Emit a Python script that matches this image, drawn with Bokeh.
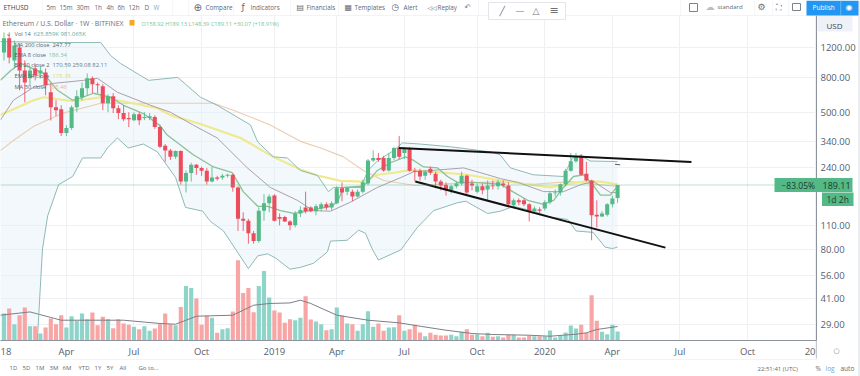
from bokeh.plotting import figure
from bokeh.embed import file_html
from bokeh.resources import INLINE
from bokeh.core.properties import value
from bokeh.models import Range1d, LinearScale, FixedTicker, Span

# ---------- data (week index, prices in USD, volume in thousands)
weeks = list(range(119))
opens = [1122,1358,1008,1200,882,793,906,847,859,658,538,524,380,407,538,615,694,793,732,712,567,623,531,497,465,452,490,465,465,471,
         412,320,301,276,299,198,222,248,238,229,198,209,209,214,217,183,120,117,99,89,134,148,164,123,123,116,110,129,140,140,
         133,138,146,140,148,181,173,173,162,173,193,263,272,272,230,272,311,291,307,229,229,214,235,220,198,190,176,186,193,214,
         193,173,186,178,188,186,193,188,144,154,154,146,133,136,138,150,169,171,191,229,260,280,220,201,127,124,127,146,158.92]
highs = [1470,1470,1318,1265,1008,930,956,930,906,741,591,552,423,552,675,751,847,814,751,732,640,650,552,552,503,503,503,503,497,483,
         423,328,307,301,301,230,255,251,242,238,242,214,220,220,220,186,131,120,102,140,167,167,167,129,125,118,133,142,173,142,
         146,150,150,152,186,196,181,178,178,203,268,301,291,280,291,315,365,315,315,238,235,230,242,226,203,196,190,198,226,217,
         203,193,193,201,201,203,201,196,158,158,158,148,142,140,154,173,178,193,235,291,291,287,258,203,154,133,148,164,189.13]
lows = [1008,970,906,675,575,722,772,793,632,450,477,365,365,396,503,591,632,650,650,517,503,497,458,446,412,446,423,452,452,402,
        311,258,265,268,190,171,198,217,214,190,196,201,203,209,173,102,102,86,86,87,117,131,116,110,115,103,107,123,129,131,
        126,133,135,135,146,152,165,152,160,169,188,258,258,226,226,265,268,268,226,198,201,203,217,181,176,164,169,181,188,167,
        176,169,167,154,178,178,183,142,138,144,142,116,131,129,134,146,162,164,186,226,255,214,198,90,107,123,124,140,148.39]
closes = [1358,1050,1232,882,751,882,825,882,722,538,517,380,407,538,623,694,793,732,722,567,623,531,497,458,458,490,452,471,477,412,
          316,301,276,299,198,222,248,238,229,198,209,206,214,217,183,120,117,99,89,134,148,162,117,120,116,110,129,135,133,133,
          142,146,140,148,181,171,183,162,173,196,263,272,265,230,272,311,276,311,229,226,212,226,223,198,188,176,186,193,214,171,
          188,186,176,188,186,196,188,146,154,150,146,133,138,134,150,169,171,191,229,260,276,217,201,126,124,129,146,158,189.11]
volumes = [1890,2240,1140,1770,2310,1000,1000,490,910,1540,1140,1770,910,1700,1375,1890,1490,1960,1070,1655,1490,860,1490,1190,1095,955,790,1000,675,840,
           1140,1890,1140,1070,2350,3820,3680,2940,1095,1725,1585,535,790,860,2030,5615,3330,3680,1980,3820,4870,3005,2100,1960,1235,1490,1420,1585,3100,1470,
           1330,1140,720,790,2310,1750,1190,1140,675,1140,2050,955,1190,675,910,930,1770,675,790,1095,560,300,535,400,350,350,400,300,605,790,
           400,440,300,535,255,300,210,400,400,210,210,350,300,300,300,700,210,350,560,1050,840,1095,535,3170,1375,605,440,1095,626]

bb_upper_w = [-1,11,18.6,20.5,22.4,27.8,33.4,37.8,41,47.4,48.8,51.8,54.5,57,60.3,62.4,63.4,68.6,70,71.9,75,76.6,80,85.9,93.6,95.4,97.4,101.8,107.6,109.3,110.9,112.8,118]
bb_upper = [1300,1283,1283,1078,969,772,803,615,552,424,337,276,272,230,215,173,183,183,230,263,301,333,328,316,295,284,238,217,212,272,280,261,259.08]
bb_lower_w = [-1,6.4,7.4,8.4,10.5,13.2,15.1,18.6,19.9,21.8,23.9,26.8,29.5,33,34.9,38.2,39.7,42.2,44.5,47,48.8,50.7,52.2,55,57,59.5,62.2,62.8,66,68.2,69.5,70.9,72,76.3,79.5,82.6,87.2,88.8,93,95.5,98,101.8,105,108.4,110,113.3,115.6,117,118]
bb_lower = [12,23,80,125,190,212,272,272,311,356,311,328,295,209,140,133,116,102,80,61.5,73,75,71,61,62.5,66,77,89,90,103,99,79,69,79,107,134,149,152,129,133,142,133,123,119,102,100,82,80.5,82.11]
ema8_w = [-0.7,1.3,3.2,7.6,10.3,13.2,14.7,17.2,20.5,23,26.8,30,31.4,36.4,40.3,43.9,46,48.8,50.7,53.2,55.7,57,62.8,64.1,65.3,69,70,71.8,74.3,77.2,78.8,80.7,83.4,85.3,87.2,90.3,95.5,97.4,100.7,103.8,105.7,107.6,109.5,111.5,113.2,114.7,116.6,118]
ema8 = [772,882,969,847,675,591,607,649,615,552,494,420,370,284,241,223,173,142,142,134,129,131,142,150,183,186,198,230,255,276,263,241,238,212,196,196,191,176,154,146,154,183,212,217,190,165,165,186.34]
ma20_w = [-0.7,1.8,5.7,9.5,15.3,18,21.8,28.2,32,36.4,41,46.8,51.2,56.4,59.5,62.8,66.6,71.8,76.3,78.8,83.9,88.4,93,95.5,98.8,103.8,107.6,110.9,113.4,116.6,118]
ma20 = [452,591,703,741,772,793,658,552,503,423,356,238,183,154,134,133,150,183,209,226,232,238,217,206,196,173,173,190,198,171,170.59]
ema34_w = [-0.7,5.7,7.6,13.4,18.6,21.8,29.5,32,37.8,45.5,51.8,57,60.3,64.7,69,71.8,75,78.2,82.6,89.1,95.5,100.7,105,108.9,111.5,114.7,118]
ema34 = [484,591,615,583,615,591,531,484,429,356,276,233,215,200,198,217,223,232,226,217,201,191,183,193,198,198,191]
ma50_w = [-0.7,1.8,5.7,11.4,18.6,27.6,40.3,44.1,51.2,57,60.9,65.3,69.1,73,79.1,85.9,95.5,101.8,108.9,118]
ma50 = [300,344,416,497,567,567,567,517,424,340,311,276,230,201,188,193,198,191,198,185.46]
vol_ma_w = [-0.7,5,11,19,23,30,33,37,44,48,51,55,57,59,64,70,76,80,85,90,94,101,105,110,112,114,118]
vol_ma = [1770,2000,1420,1420,1420,1190,1140,1700,1770,2470,2590,2630,2820,2590,1770,1420,1235,1000,720,490,420,370,300,440,535,770,981]
ma200_w = [117.5,118.5]
ma200 = [250,247.77]
trend_top_w = [75.9,132.2]
trend_top = [311,258]
trend_low_w = [79.1,127.2]
trend_low = [198,81.5]

price_ticks = [29,41,56,80,110,240,340,500,800,1200]
x_tick_pos = [12,25,38,52,64,77,91,104,117,130,143]
x_tick_labels = ["Apr","Jul","Oct","2019","Apr","Jul","Oct","2020","Apr","Jul","Oct"]
last_price = 189.11

GREEN = "#53b987"; RED = "#eb4d5c"
VGREEN = "#8fd4c9"; VRED = "#f7a6a5"
W, H = 860, 376

p = figure(width=W, height=H, output_backend="svg", toolbar_location=None,
           y_axis_type="log", y_axis_location="right",
           x_range=Range1d(-0.673, 156.25), y_range=Range1d(23.4, 1845),
           min_border_left=0, min_border_top=15, min_border_right=44, min_border_bottom=36,
           outline_line_color=None, background_fill_color="white", border_fill_color="white")
p.styles = {"position": "absolute", "left": "0px", "top": "0px"}
p.extra_y_ranges = {"vol": Range1d(0, 22750)}
p.extra_y_scales = {"vol": LinearScale()}

# axes
ax = p.yaxis[0]
ax.ticker = FixedTicker(ticks=price_ticks)
ax.major_label_overrides = {t: f"{t:.2f}" for t in price_ticks}
ax.major_label_text_font = "Open Sans"; ax.major_label_text_font_size = "9.5px"
ax.major_label_text_color = "#56606b"
ax.major_tick_line_color = None; ax.minor_tick_line_color = None
ax.major_tick_out = 0; ax.major_tick_in = 0
ax.axis_line_color = "#8d939c"; ax.major_label_standoff = 4

bx = p.xaxis[0]
bx.ticker = FixedTicker(ticks=x_tick_pos)
bx.major_label_overrides = dict(zip(x_tick_pos, x_tick_labels))
bx.major_label_text_font = "Open Sans"; bx.major_label_text_font_size = "9.5px"
bx.major_label_text_color = "#56606b"
bx.major_tick_line_color = None; bx.minor_tick_line_color = None
bx.major_tick_out = 0; bx.major_tick_in = 0
bx.axis_line_color = "#8d939c"; bx.major_label_standoff = 4

for g in (p.xgrid[0], p.ygrid[0]):
    g.grid_line_color = "#eef0f4"; g.grid_line_width = 1
p.xgrid[0].ticker = FixedTicker(ticks=x_tick_pos + [156])
p.ygrid[0].ticker = FixedTicker(ticks=price_ticks)

# bollinger fill
p.patch(bb_upper_w + bb_lower_w[::-1], bb_upper + bb_lower[::-1], fill_color="#e8f3f7", fill_alpha=0.55, line_color=None)

# volume
vol_colors = [VGREEN if c >= o else VRED for o, c in zip(opens, closes)]
p.vbar(x=weeks, top=volumes, bottom=0, width=0.8, color=vol_colors, line_color=None, y_range_name="vol")
p.line(vol_ma_w, vol_ma, line_color="#7d7f86", line_width=1, y_range_name="vol")

# indicator lines
p.line(ma50_w, ma50, line_color="#ecccae", line_width=1.1)
p.line(ema34_w, ema34, line_color="#efe98f", line_width=2.2)
p.line(ma20_w, ma20, line_color="#ab9fae", line_width=1)
p.line(bb_upper_w, bb_upper, line_color="#8fb9b5", line_width=1)
p.line(bb_lower_w, bb_lower, line_color="#8fb9b5", line_width=1)
p.line(ema8_w, ema8, line_color="#8cc096", line_width=1.3)
p.line(ma200_w, ma200, line_color="#555a60", line_width=1)

p.add_layout(Span(location=last_price, dimension="width", line_color=GREEN, line_alpha=0.4, line_width=1))

# candles
cols = [GREEN if c >= o else RED for o, c in zip(opens, closes)]
p.segment(x0=weeks, y0=lows, x1=weeks, y1=highs, line_color=cols, line_width=1, line_alpha=0.85)
p.vbar(x=weeks, top=[max(a, b) for a, b in zip(opens, closes)], bottom=[min(a, b) for a, b in zip(opens, closes)],
       width=0.78, color=cols, line_color=None)

# drawn trend lines
p.line(trend_top_w, trend_top, line_color="#111111", line_width=2)
p.line(trend_low_w, trend_low, line_color="#111111", line_width=2)

# ---------- page furniture: a transparent figure over the chart, measured in page pixels
ui = figure(width=W, height=H, output_backend="svg", toolbar_location=None,
            x_range=Range1d(0, W), y_range=Range1d(H, 0),
            min_border=0, outline_line_color=None, x_axis_location=None, y_axis_location=None,
            background_fill_alpha=0, border_fill_alpha=0)
ui.grid.visible = False
ui.styles = {"position": "absolute", "left": "0px", "top": "0px"}


def txt(x, y, s, color="#5a6570", size=7.5, align="left", font="Open Sans"):
    ui.text(x=[x], y=[y], text=[s], text_color=color, text_font_size=f"{size}px", text_align=align,
            text_baseline="middle", text_font=value(font))


def box(l, r, t, b, fill, line=None):
    ui.quad(left=[l], right=[r], top=[t], bottom=[b], fill_color=fill, line_color=line, line_width=1)


box(0, 860, 0, 15, "white")
box(0, 860, 15, 15.6, "#e4e7ec")
box(0, 816, 359, 359.6, "#e4e7ec")
box(815.4, 816, 340, 358, "#8d939c")
box(857.5, 860, 0, 376, "#eceef2")
for sx in (42, 172, 188, 233, 290, 338, 392, 478, 680, 754, 772, 788):
    box(sx, sx + 0.6, 0, 15, "#eceef2")

# top toolbar
txt(3, 6.5, "ETHUSD", "#3b434c", 6.5)
for sx, s in ((46, "5m"), (59, "15m"), (76, "30m"), (94, "1h"), (106, "4h"), (117, "6h"), (128, "12h"), (144, "D")):
    txt(sx, 6.5, s, "#5f6873", 6.3)
txt(153, 6.5, "W", "#7fa6c4", 6.3)
txt(193, 6.5, "⊕", "#5f6873", 10, font="DejaVu Sans")
txt(205, 6.5, "Compare", "#5f6873", 6.3)
txt(241, 6.5, "ƒ", "#5f6873", 9, font="DejaVu Sans")
txt(250, 6.5, "Indicators", "#5f6873", 6.3)
txt(296, 6.5, "▤", "#5f6873", 8, font="DejaVu Sans")
txt(306, 6.5, "Financials", "#5f6873", 6.3)
txt(344, 6.5, "▦", "#5f6873", 8, font="DejaVu Sans")
txt(354, 6.5, "Templates", "#5f6873", 6.3)
txt(391, 6.5, "◷", "#5f6873", 9, font="DejaVu Sans")
txt(403, 6.5, "Alert", "#5f6873", 6.3)
txt(427, 6.5, "◁◁", "#5f6873", 6, font="DejaVu Sans")
txt(437, 6.5, "Replay", "#5f6873", 6.3)
txt(464, 6.5, "↶", "#7c848e", 8, font="DejaVu Sans")

# floating drawing bar
box(488, 565, 2, 19, "white", "#e3e5ea")
txt(499, 10, "╱", "#6a727c", 9, font="DejaVu Sans")
txt(515, 10, "—", "#6a727c", 9, font="DejaVu Sans")
txt(532, 10, "△", "#6a727c", 9, font="DejaVu Sans")
txt(549, 10, "≡", "#6a727c", 11, font="DejaVu Sans")

# right toolbar
box(689, 697, 3, 11, "white", "#7a828c")
txt(705, 6.5, "☁", "#b8bec6", 9, font="DejaVu Sans")
txt(717, 6.5, "standard", "#5f6873", 6)
txt(757, 6.5, "⚙", "#6a727c", 9, font="DejaVu Sans")
txt(775, 6.5, "⛶", "#6a727c", 8, font="DejaVu Sans")
box(792, 800, 3, 10, "white", "#7a828c")
box(806, 858, 0, 15, "#2196f3")
txt(812, 7, "Publish", "white", 6.5)
box(840, 840.6, 0, 15, "#8cc8f5")
txt(845, 7, "◉", "white", 8, font="DejaVu Sans")

# price-scale badges
box(817, 852, 15.6, 31, "#eef2f8")
txt(834, 24.5, "USD", "#3b434c", 8, align="center")
box(774, 852, 177.5, 191.5, "#53b987")
txt(781, 184.5, "−83.05%", "#1f3a2c", 8.5)
txt(822, 184.5, "189.11", "#1f3a2c", 9)
box(821.5, 853, 192, 205.5, "#53b987")
txt(826, 198.8, "1d 2h", "#1f3a2c", 8.5)

# chart title and values
txt(2, 22.5, "Ethereum / U.S. Dollar · 1W · BITFINEX", "#66707a", 6.9)
box(129, 134, 19.5, 25, "#f5a623")
txt(141, 23, "O158.92 H189.13 L148.39 C189.11 +30.07 (+18.91%)", "#72c59c", 5.7)

legend = [
    (33, "Vol 14", 33, "625.859K 981.065K", "#6aa79d"),
    (44, "MA 200 close", 52, "247.77", "#5a6570"),
    (54, "EMA 8 close", 48, "186.34", "#8cc096"),
    (64.5, "BB 20 close 2", 52, "170.59 259.08 82.11", "#5e7f88"),
    (75, "EMA 34 close", 52, "178.38", "#e5dc68"),
    (86, "MA 50 close", 48, "185.46", "#e8b98f"),
]
txt(5, 33, "⌄", "#6a727c", 7, font="DejaVu Sans")
for ly, name, nx, val, vc in legend:
    txt(14, ly, name, "#5a6570", 5.7)
    txt(nx, ly, val, vc, 5.9)

# clipped axis labels at the edges
txt(0, 350.5, "18", "#56606b", 9.5)
txt(815, 350.5, "20", "#56606b", 9.5, align="right")
txt(836, 350, "○", "#6a727c", 7, align="center", font="DejaVu Sans")

# bottom bar
for sx, s in ((9, "1D"), (22, "5D"), (35, "1M"), (49, "3M"), (62, "6M"), (78, "YTD"), (94, "1Y"), (106, "5Y"), (119, "All"), (138, "Go to...")):
    txt(sx, 367.5, s, "#5f6873", 6)
txt(757, 368, "22:51:41 (UTC)", "#5f6873", 6)
txt(815, 368, "%", "#5f6873", 6.5)
txt(825, 368, "log", "#6fa6d8", 6.5)
txt(840, 368, "auto", "#5f6873", 6.5)

open("out.html", "w").write(file_html([p, ui], INLINE))
